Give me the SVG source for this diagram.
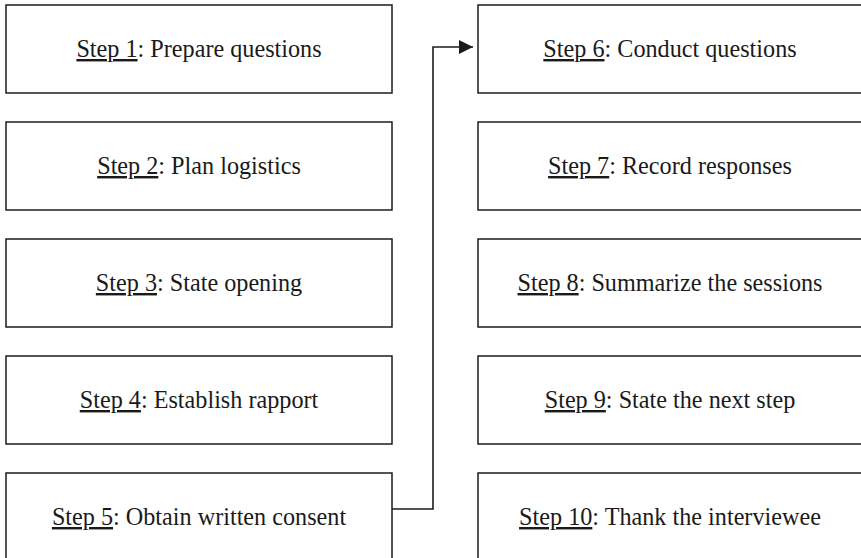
<svg xmlns="http://www.w3.org/2000/svg" width="861" height="558" viewBox="0 0 861 558">
<defs>
<style>
.box{fill:#fff;stroke:#1c1c1c;stroke-width:1.5}
.lbl{font-family:"Liberation Serif","Times New Roman",serif;font-size:24.2px;fill:#1a1a1a;text-anchor:middle}
.u{text-decoration:underline}
.conn{fill:none;stroke:#1c1c1c;stroke-width:1.6}
</style>
<marker id="arr" viewBox="0 0 10 10" refX="10" refY="5" markerWidth="14" markerHeight="14" markerUnits="userSpaceOnUse" orient="auto">
<path d="M0,0 L10,5 L0,10 Z" fill="#1c1c1c"/>
</marker>
</defs>
<rect width="861" height="558" fill="#fff"/>
<g id="step1"><rect class="box" x="6" y="5" width="386" height="88"/><text class="lbl" x="199" y="57"><tspan class="u">Step 1</tspan>: Prepare questions</text></g>
<g id="step2"><rect class="box" x="6" y="122" width="386" height="88"/><text class="lbl" x="199" y="174"><tspan class="u">Step 2</tspan>: Plan logistics</text></g>
<g id="step3"><rect class="box" x="6" y="239" width="386" height="88"/><text class="lbl" x="199" y="291"><tspan class="u">Step 3</tspan>: State opening</text></g>
<g id="step4"><rect class="box" x="6" y="356" width="386" height="88"/><text class="lbl" x="199" y="408"><tspan class="u">Step 4</tspan>: Establish rapport</text></g>
<g id="step5"><rect class="box" x="6" y="473" width="386" height="92"/><text class="lbl" x="199" y="525"><tspan class="u">Step 5</tspan>: Obtain written consent</text></g>
<g id="step6"><rect class="box" x="478" y="5" width="390" height="88"/><text class="lbl" x="670" y="57"><tspan class="u">Step 6</tspan>: Conduct questions</text></g>
<g id="step7"><rect class="box" x="478" y="122" width="390" height="88"/><text class="lbl" x="670" y="174"><tspan class="u">Step 7</tspan>: Record responses</text></g>
<g id="step8"><rect class="box" x="478" y="239" width="390" height="88"/><text class="lbl" x="670" y="291"><tspan class="u">Step 8</tspan>: Summarize the sessions</text></g>
<g id="step9"><rect class="box" x="478" y="356" width="390" height="88"/><text class="lbl" x="670" y="408"><tspan class="u">Step 9</tspan>: State the next step</text></g>
<g id="step10"><rect class="box" x="478" y="473" width="390" height="92"/><text class="lbl" x="670" y="525"><tspan class="u">Step 10</tspan>: Thank the interviewee</text></g>
<g id="connectors">
<path class="conn" d="M392,509 H433 V47 H473" marker-end="url(#arr)"/>
</g>
</svg>
